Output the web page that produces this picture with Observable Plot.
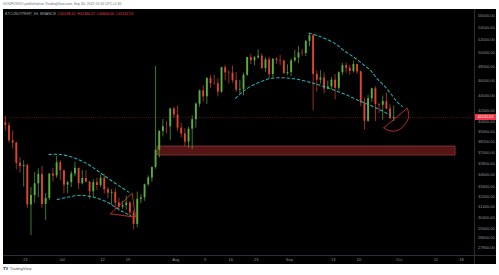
<!DOCTYPE html>
<html><head><meta charset="utf-8">
<script src="https://cdn.jsdelivr.net/npm/d3@7"></script>
<script src="https://cdn.jsdelivr.net/npm/@observablehq/plot@0.6"></script>
<style>
html,body{margin:0;padding:0;background:#fff;width:499px;height:275px;overflow:hidden;font-family:"Liberation Sans",Arial,sans-serif;}
#header{position:absolute;left:3px;top:1.5px;font-size:3.5px;line-height:5px;color:#6a6d78;white-space:nowrap;}
#chart{position:absolute;left:3px;top:9px;}
#legend{position:absolute;left:5px;top:11.5px;font-size:3.6px;line-height:5px;white-space:nowrap;color:#a3a6af;}
#legend .v{color:#e8413f;}
#tag{position:absolute;left:475px;width:21px;height:6px;background:#f23645;color:#fff;font-size:3.8px;line-height:6px;text-align:center;}
#footer{position:absolute;left:3px;top:266px;font-size:4px;line-height:5px;color:#555;white-space:nowrap;}
#footer b{color:#131722;font-size:4px;margin-right:1.5px;}
</style></head>
<body>
<div id="header">GODFOXDO published on TradingView.com, Sep 30, 2021 01:55 UTC+5:30</div>
<div id="chart"></div>
<div id="legend">BTCUSDTPERP, 1H, BINANCE&nbsp; <span class="v">O41198.42&nbsp; H41366.22&nbsp; L40600.00&nbsp; C41132.53</span></div>
<div id="tag"></div>
<div id="footer"><b>TV</b>TradingView</div>
<script>
// ---- data (daily OHLC) ----
const days = ["2021-06-15","2021-06-16","2021-06-17","2021-06-18","2021-06-19","2021-06-20","2021-06-21","2021-06-22","2021-06-23","2021-06-24","2021-06-25","2021-06-26","2021-06-27","2021-06-28","2021-06-29","2021-06-30",
"2021-07-01","2021-07-02","2021-07-03","2021-07-04","2021-07-05","2021-07-06","2021-07-07","2021-07-08","2021-07-09","2021-07-10","2021-07-11","2021-07-12","2021-07-13","2021-07-14","2021-07-15","2021-07-16","2021-07-17","2021-07-18","2021-07-19","2021-07-20","2021-07-21","2021-07-22","2021-07-23","2021-07-24","2021-07-25","2021-07-26","2021-07-27","2021-07-28","2021-07-29","2021-07-30","2021-07-31",
"2021-08-01","2021-08-02","2021-08-03","2021-08-04","2021-08-05","2021-08-06","2021-08-07","2021-08-08","2021-08-09","2021-08-10","2021-08-11","2021-08-12","2021-08-13","2021-08-14","2021-08-15","2021-08-16","2021-08-17","2021-08-18","2021-08-19","2021-08-20","2021-08-21","2021-08-22","2021-08-23","2021-08-24","2021-08-25","2021-08-26","2021-08-27","2021-08-28","2021-08-29","2021-08-30","2021-08-31",
"2021-09-01","2021-09-02","2021-09-03","2021-09-04","2021-09-05","2021-09-06","2021-09-07","2021-09-08","2021-09-09","2021-09-10","2021-09-11","2021-09-12","2021-09-13","2021-09-14","2021-09-15","2021-09-16","2021-09-17","2021-09-18","2021-09-19","2021-09-20","2021-09-21","2021-09-22","2021-09-23","2021-09-24","2021-09-25","2021-09-26","2021-09-27","2021-09-28","2021-09-29"];
const opens = [40500,40150,38350,38090,35830,35480,35590,31600,32500,33680,34650,31650,32230,34700,34490,35900,
35040,33540,33800,34700,35290,33690,34220,33860,32880,33800,33510,34260,33090,32730,32820,31780,31390,31530,31780,30840,29790,32140,32290,33590,34280,35400,37280,39460,40020,40010,42230,
41460,39850,39150,38200,39720,40880,42840,44600,43800,46280,45590,45550,44420,47830,47100,47050,46000,44700,44800,46750,49320,48860,49280,49520,47700,48970,46850,49070,48900,48800,46990,
47130,48830,49270,49990,49920,51790,52690,46860,46070,46370,44840,45150,46060,44950,47100,48130,47750,47290,48300,47240,42990,40680,43550,44880,42790,42700,43170,42220,41010];
const highs = [41300,40500,39550,38200,36450,36100,35750,33300,34850,35250,35500,32700,34700,35300,36600,36100,
35050,33950,34950,35950,35290,35050,35050,33900,34100,34250,34600,34650,33330,33100,33180,32250,31950,32450,31900,31050,32850,32600,33650,34500,35400,48000,39550,40900,40650,42300,42450,
42600,40450,39780,39950,41350,43000,44700,45300,46450,46700,46750,46200,47900,48150,47400,48050,47150,46050,47050,49350,49800,49500,50500,49850,49300,49350,49150,49300,49650,48900,48250,
49100,50400,51000,50550,51900,52950,52900,47350,47400,47050,45950,46450,46850,47250,48450,48500,48150,48800,48350,47350,43650,44000,44950,45150,42950,43900,44300,42750,42600];
const lows = [39500,38100,37400,35150,34800,33350,31250,28800,31700,32300,31280,30150,32000,33850,34230,34000,
32700,32700,33300,34400,33100,33550,33770,32100,32250,33000,33300,32650,32200,31550,31150,31000,31150,31100,30400,29300,29480,31700,31950,33400,33850,35200,36400,38800,39200,38350,41050,
39450,38700,37650,37500,37350,39850,42450,43100,42800,44950,45350,43800,44250,45950,45550,45650,44400,44200,43950,46600,48300,48100,49050,47600,47150,46300,46350,48350,48100,46900,46700,
46550,48600,48400,49500,49450,50950,42000,44450,45500,44200,44750,44750,43400,44650,46700,47050,46750,47050,46850,42500,39600,40550,43050,40650,41650,40800,42100,40900,40600];
const closes = [40150,38350,38090,35830,35480,35590,31600,32500,33680,34650,31650,32230,34700,34490,35900,35040,
33540,33800,34700,35290,33690,34220,33860,32880,33800,33510,34260,33090,32730,32820,31780,31390,31530,31780,30840,29790,32140,32290,33590,34280,35400,37280,39460,40020,40010,42230,41460,
39850,39150,38200,39720,40880,42840,44600,43800,46280,45590,45550,44420,47830,47100,47050,46000,44700,44800,46750,49320,48860,49280,49520,47700,48970,46850,49070,48900,48800,46990,47130,
48830,49270,49990,49920,51790,52690,46860,46070,46370,44840,45150,46060,44950,47100,48130,47750,47290,48300,47240,42990,40680,43550,44880,42790,42700,43170,42220,41010,41132.53];

const lastPrice = 41132.53;

// tick labels
const yTicks = [56000,54000,52000,50000,48000,46000,44000,42000,40600,39400,38200,37000,35800,34600,33400,32400,31400,30400,29400,28600,27800];
const xTickDates = ["2021-06-21","2021-07-01","2021-07-12","2021-07-19","2021-08-01","2021-08-09","2021-08-16","2021-08-23","2021-09-01","2021-09-13","2021-09-20","2021-10-01","2021-10-11","2021-10-18"];
const xTickLabels = ["21","Jul","12","19","Aug","9","16","23","Sep","13","20","Oct","11","18"];

// drawn annotations (time, price)
const supportZone = [{start:"2021-07-27T01:00Z", end:"2021-10-16T09:00Z", top:37700, bottom:36680}];
const arcUpperJul = [["2021-06-27T09:00Z",36800],["2021-06-30T13:00Z",36800],["2021-07-03T18:00Z",36500],["2021-07-06T00:00Z",36140],["2021-07-08T07:00Z",35670],["2021-07-10T14:00Z",35060],["2021-07-12T20:00Z",34430],["2021-07-15T02:00Z",33840],["2021-07-17T09:00Z",33270],["2021-07-19T05:00Z",32840]];
const arcLowerJul = [["2021-06-29T16:00Z",32120],["2021-07-02T09:00Z",32340],["2021-07-05T13:00Z",32510],["2021-07-08T07:00Z",32440],["2021-07-10T14:00Z",32250],["2021-07-13T07:00Z",31860],["2021-07-15T13:00Z",31380],["2021-07-17T20:00Z",30910],["2021-07-19T16:00Z",30600]];
const triangleJul = [["2021-07-14T05:00Z",30760],["2021-07-20T03:00Z",32740],["2021-07-21T00:30Z",30450],["2021-07-14T05:00Z",30760]];
const arcUpperSep = [["2021-09-06T08:00Z",53080],["2021-09-08T15:00Z",52720],["2021-09-10T21:00Z",52190],["2021-09-13T15:00Z",51410],["2021-09-15T21:00Z",50380],["2021-09-18T15:00Z",49370],["2021-09-20T22:00Z",48400],["2021-09-23T04:00Z",47430],["2021-09-25T00:00Z",46250],["2021-09-27T06:00Z",45090],["2021-09-29T02:00Z",43980],["2021-09-30T11:00Z",43100],["2021-10-01T20:00Z",42540]];
const arcLowerSep = [["2021-08-17T08:00Z",43620],["2021-08-20T01:00Z",44780],["2021-08-23T06:00Z",45640],["2021-08-26T21:00Z",46300],["2021-08-30T10:00Z",46390],["2021-09-02T17:00Z",46220],["2021-09-06T06:00Z",45810],["2021-09-09T12:00Z",45330],["2021-09-13T02:00Z",44720],["2021-09-16T08:00Z",44110],["2021-09-19T21:00Z",43320],["2021-09-23T04:00Z",42670],["2021-09-26T17:00Z",41900],["2021-09-28T15:00Z",41400]];
const wedgeEdge = [["2021-09-26T19:00Z",39890],["2021-10-03T04:00Z",42320]];
const wedgeArc = [["2021-10-03T04:00Z",42320],["2021-10-03T15:00Z",41400],["2021-10-02T17:00Z",40380],["2021-09-30T11:00Z",39560],["2021-09-28T04:00Z",39560],["2021-09-26T19:00Z",39890]];

// ---- build ----
const candles = days.map((d,i)=>({t:new Date(d+"T12:00Z"), o:opens[i], h:highs[i], l:lows[i], c:closes[i]}));
const pts = a => a.map(([t,p])=>({t:new Date(t), p}));
const col = d => d.c >= d.o ? "#5aae3a" : "#dc4530";
const labelMap = new Map(xTickDates.map((d,i)=>[+new Date(d+"T00:00Z"), xTickLabels[i]]));
const teal = "#22b3b8", redLine = "#e0393e";
const dashed = {x:"t", y:"p", stroke:teal, strokeWidth:1.05, strokeDasharray:"2.6,2.6", curve:"catmull-rom"};

const chart = Plot.plot({
  width: 493, height: 255,
  marginTop: 0, marginRight: 22, marginBottom: 9, marginLeft: 0,
  style: {background:"#000", color:"#8f929b", fontFamily:"Liberation Sans, Arial, sans-serif", fontSize:"4px", overflow:"visible"},
  x: {type:"utc", domain:[new Date("2021-06-15T00:00Z"), new Date("2021-10-21T13:00Z")]},
  y: {type:"log", domain:[27121, 57024]},
  marks: [
    Plot.frame({anchor:"right", stroke:"#2a2e39"}),
    Plot.frame({anchor:"bottom", stroke:"#2a2e39"}),
    Plot.ruleY([lastPrice], {stroke:"#6e1d1d", strokeWidth:0.8, strokeDasharray:"1,1.2"}),
    Plot.rect(supportZone, {x1:d=>new Date(d.start), x2:d=>new Date(d.end), y1:"bottom", y2:"top", fill:"#561515", stroke:"#a14848", strokeWidth:0.6}),
    Plot.ruleX(candles, {x:"t", y1:"l", y2:"h", stroke:col, strokeWidth:0.7}),
    Plot.ruleX(candles, {x:"t", y1:"o", y2:"c", stroke:col, strokeWidth:1.9}),
    Plot.line(pts(arcUpperJul), dashed),
    Plot.line(pts(arcLowerJul), dashed),
    Plot.line(pts(arcUpperSep), dashed),
    Plot.line(pts(arcLowerSep), dashed),
    Plot.line(pts(triangleJul), {x:"t", y:"p", stroke:redLine, strokeWidth:0.8}),
    Plot.line(pts(wedgeEdge), {x:"t", y:"p", stroke:redLine, strokeWidth:0.8}),
    Plot.line(pts(wedgeArc), {x:"t", y:"p", stroke:redLine, strokeWidth:0.8, curve:"catmull-rom"}),
    Plot.axisY({anchor:"right", ticks:yTicks, tickFormat:d=>d.toFixed(2), tickSize:0, tickPadding:3.5, fontSize:4, fill:"#8f929b", label:null}),
    Plot.axisX({ticks:xTickDates.map(d=>new Date(d+"T00:00Z")), tickFormat:d=>labelMap.get(+d), tickSize:0, tickPadding:2.2, fontSize:4, fill:"#8f929b", label:null})
  ]
});
document.getElementById("chart").appendChild(chart);

// extend separators through the axis strips
const svg = d3.select(chart);
svg.append("line").attr("x1",471.5).attr("x2",471.5).attr("y1",246).attr("y2",255).attr("stroke","#2a2e39");
svg.append("line").attr("x1",471).attr("x2",493).attr("y1",246.5).attr("y2",246.5).attr("stroke","#2a2e39");

// price tag on the axis, positioned with the chart's y scale
const tag = document.getElementById("tag");
tag.textContent = lastPrice.toFixed(2);
tag.style.top = (9 + chart.scale("y").apply(lastPrice) - 3) + "px";
</script>
</body></html>
